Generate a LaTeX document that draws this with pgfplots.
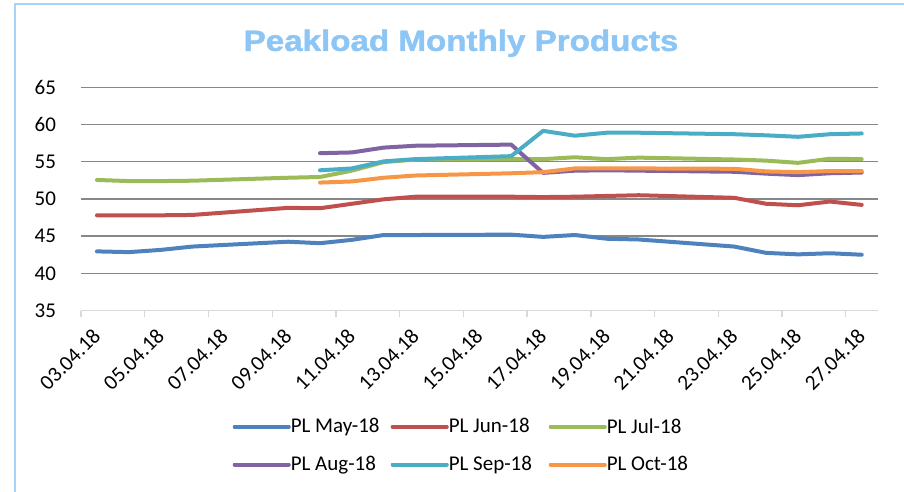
\documentclass[border=0pt]{standalone}
\usepackage{fontspec}
\setmainfont{Carlito}
\newfontfamily\titlefont{Liberation Sans}[BoldFeatures={FakeBold=1.5}]
\usepackage{pgfplots}
\pgfplotsset{compat=1.18}
\definecolor{cMay}{HTML}{4F81BD}
\definecolor{cJun}{HTML}{C0504D}
\definecolor{cJul}{HTML}{9BBB59}
\definecolor{cAug}{HTML}{8064A2}
\definecolor{cSep}{HTML}{4BACC6}
\definecolor{cOct}{HTML}{F79646}
\definecolor{gridc}{HTML}{878787}
\definecolor{axisc}{HTML}{D9D9D9}
\definecolor{titleblue}{HTML}{8DC6F5}
\definecolor{framec}{HTML}{A6D3F7}
\begin{document}
\begin{tikzpicture}
\draw[framec, line width=1.5pt] (11.25pt,-380pt) -- (11.25pt,-3pt) -- (690pt,-3pt);
\node[font=\titlefont\bfseries\fontsize{22}{26}\selectfont, text=titleblue, xscale=1.13] at (345.75pt,-32.5pt) {Peakload Monthly Products};
\begin{axis}[
 scale only axis, width=597.5pt, height=167.4pt,
 at={(60.75pt,-232.9pt)}, anchor=south west,
 xmin=2.5, xmax=27.5, ymin=35, ymax=65,
 ytick={40,45,...,65},
 extra y ticks={35},
 extra y tick style={grid=none},
 ymajorgrids,
 grid style={draw=gridc, line width=1pt},
 xtick={3,5,...,27},
 xticklabels={03.04.18,05.04.18,07.04.18,09.04.18,11.04.18,13.04.18,15.04.18,17.04.18,19.04.18,21.04.18,23.04.18,25.04.18,27.04.18},
 minor xtick={2.5,4.5,...,26.5},
 axis x line=bottom, axis y line=left,
 x axis line style={-, draw=axisc, line width=1pt},
 y axis line style={draw=none},
 tick align=outside,
 major x tick style={draw=none},
 minor x tick style={draw=axisc, line width=1pt},
 minor tick length=4.5pt,
 ytick style={draw=none},
 /pgf/number format/assume math mode=true,
 yticklabel style={font=\fontsize{15.75}{18}\selectfont, xshift=-11pt},
 xticklabel style={font=\fontsize{16}{18}\selectfont, xshift=2.25pt, yshift=-9.75pt, rotate=45, anchor=east},
 every axis plot/.append style={line width=3pt, line join=round, line cap=round},
 legend style={draw=none, at={(0.488,-0.605)}, anchor=center, legend columns=3, column sep=0pt, row sep=16pt, nodes={inner sep=0pt}, font=\fontsize{15.75}{18}\selectfont},
 legend image code/.code={\draw[#1, line cap=round] (0pt,0pt) -- (35pt,0pt); \path (0pt,0pt) -- (40.5pt,0pt);},
]
\addplot[cMay] coordinates {(3,42.95)(4,42.85)(5,43.15)(6,43.6)(9,44.25)(10,44.05)(11,44.5)(12,45.15)(13,45.15)(16,45.2)(17,44.9)(18,45.15)(19,44.65)(20,44.55)(23,43.6)(24,42.75)(25,42.55)(26,42.7)(27,42.5)};
\addlegendentry{\makebox[75pt][l]{PL May-18}}
\addplot[cJun] coordinates {(3,47.8)(4,47.8)(5,47.8)(6,47.85)(9,48.8)(10,48.75)(11,49.35)(12,49.95)(13,50.3)(16,50.3)(17,50.25)(18,50.3)(19,50.4)(20,50.5)(23,50.15)(24,49.35)(25,49.15)(26,49.65)(27,49.2)};
\addlegendentry{\makebox[75pt][l]{PL Jun-18}}
\addplot[cJul] coordinates {(3,52.55)(4,52.4)(5,52.4)(6,52.45)(9,52.85)(10,52.95)(11,53.8)(12,54.95)(13,55.3)(16,55.35)(17,55.35)(18,55.6)(19,55.35)(20,55.55)(23,55.3)(24,55.15)(25,54.85)(26,55.4)(27,55.35)};
\addlegendentry{\makebox[75pt][l]{PL Jul-18}}
\addplot[cAug] coordinates {(10,56.15)(11,56.25)(12,56.9)(13,57.15)(16,57.3)(17,53.5)(18,53.8)(19,53.85)(20,53.8)(23,53.65)(24,53.4)(25,53.2)(26,53.45)(27,53.55)};
\addlegendentry{\makebox[75pt][l]{PL Aug-18}}
\addplot[cSep] coordinates {(10,53.85)(11,54.1)(12,55.05)(13,55.35)(16,55.75)(17,59.15)(18,58.5)(19,58.9)(20,58.9)(23,58.7)(24,58.55)(25,58.35)(26,58.7)(27,58.8)};
\addlegendentry{\makebox[75pt][l]{PL Sep-18}}
\addplot[cOct] coordinates {(10,52.2)(11,52.35)(12,52.85)(13,53.15)(16,53.45)(17,53.6)(18,54.1)(19,54.1)(20,54.1)(23,54.05)(24,53.7)(25,53.6)(26,53.75)(27,53.75)};
\addlegendentry{\makebox[75pt][l]{PL Oct-18}}
\end{axis}
\pgfresetboundingbox
\useasboundingbox (0pt,0pt) rectangle (678pt,-369pt);
\end{tikzpicture}
\end{document}
